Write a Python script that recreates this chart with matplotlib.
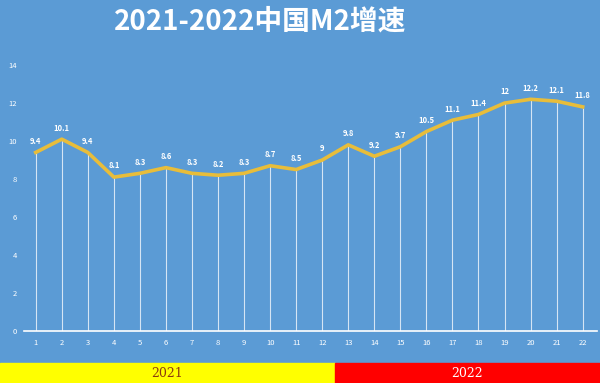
import matplotlib.pyplot as plt
import matplotlib.patches as mpatches

plt.rcParams['font.family'] = ['Noto Sans CJK SC', 'DejaVu Sans']

months = list(range(1, 23))
m2 = [9.4, 10.1, 9.4, 8.1, 8.3, 8.6, 8.3, 8.2, 8.3, 8.7, 8.5, 9,
      9.8, 9.2, 9.7, 10.5, 11.1, 11.4, 12, 12.2, 12.1, 11.8]
labels = ['9.4', '10.1', '9.4', '8.1', '8.3', '8.6', '8.3', '8.2', '8.3', '8.7', '8.5', '9',
          '9.8', '9.2', '9.7', '10.5', '11.1', '11.4', '12', '12.2', '12.1', '11.8']
years = ['2021', '2022']

bg = '#5b9bd5'
fig = plt.figure(figsize=(6, 3.83), dpi=100, facecolor=bg)
ax = fig.add_axes([0.04, 0.136, 0.955, 0.694])
ax.set_facecolor(bg)

ax.vlines(months, 0, m2, color='white', lw=0.8, alpha=0.75)
ax.plot(months, m2, color='#e8bd3a', lw=2.6, solid_joinstyle='round', zorder=3)
for x, y, t in zip(months, m2, labels):
    ax.text(x, y + 0.35, t, color='white', fontsize=5.5, fontweight='bold',
            ha='center', va='bottom')

ax.set_xlim(0.55, 22.55)
ax.set_ylim(0, 14)
ax.set_yticks(range(0, 15, 2))
ax.set_xticks(months)
ax.tick_params(length=0, colors='white', labelsize=5.5)
ax.tick_params(axis='y', pad=5)
ax.tick_params(axis='x', pad=6)
for s in ['top', 'right', 'left']:
    ax.spines[s].set_visible(False)
ax.spines['bottom'].set_color('white')
ax.spines['bottom'].set_linewidth(1.2)

fig.text(0.434, 0.943, '2021-2022中国M2增速', color='white', fontsize=20,
         fontweight='bold', ha='center', va='center')

# year bands along the bottom
fig.patches.append(mpatches.Rectangle((0, 0), 0.558, 0.052, transform=fig.transFigure,
                                      color='#ffff00', zorder=0))
fig.patches.append(mpatches.Rectangle((0.558, 0), 0.442, 0.052, transform=fig.transFigure,
                                      color='#ff0000', zorder=0))
fig.text(0.279, 0.024, years[0], color='#8b3a0f', fontsize=9, family='DejaVu Serif',
         ha='center', va='center')
fig.text(0.779, 0.024, years[1], color='white', fontsize=9, family='DejaVu Serif',
         ha='center', va='center')

fig.savefig('out.png', dpi=100, facecolor=bg)
